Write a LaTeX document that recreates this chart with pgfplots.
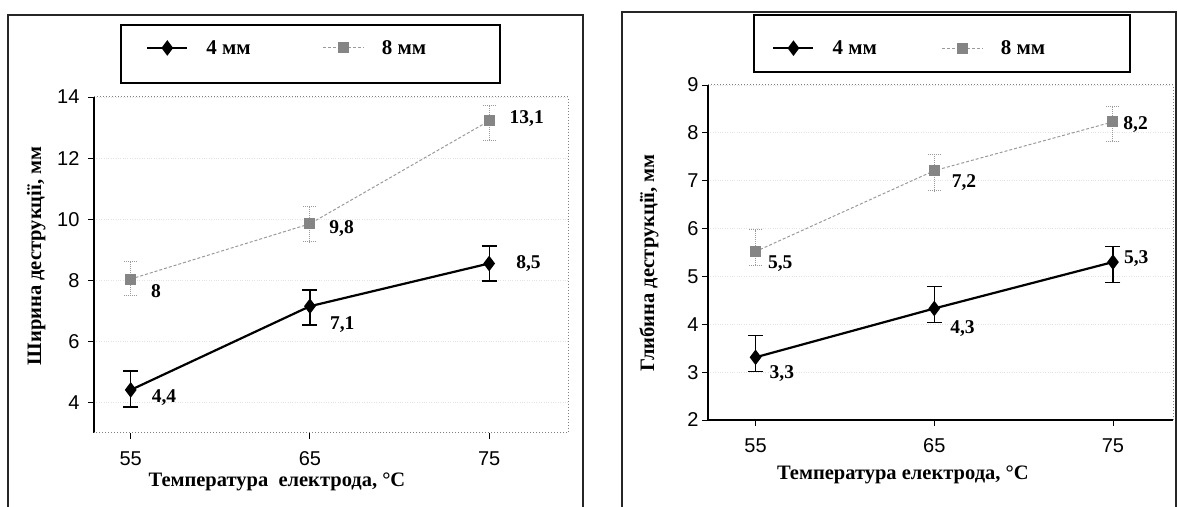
\documentclass[border=0pt]{standalone}
\usepackage{fontspec}
\setmainfont{Liberation Serif}
\setsansfont{Liberation Sans}
\usepackage{pgfplots}
\usepackage{pgfplotstable}
\pgfplotsset{compat=1.18}

\definecolor{grayline}{HTML}{9A9A9A}
\definecolor{graymark}{HTML}{858585}
\newcommand\fs{\fontsize{20bp}{23bp}\selectfont}
\newcommand\fl{\fontsize{20.5bp}{23bp}\selectfont}
\newcommand\fg{\fontsize{21bp}{24bp}\selectfont}
\newcommand\fd{\fontsize{19.5bp}{22bp}\selectfont}

% left panel: width of destruction
\pgfplotstableread{
x y ep em dx dy lab
55 4.41 0.62 0.56 20 -8 4,4
65 7.15 0.53 0.61 19 -18 7,1
75 8.55 0.57 0.57 26 0 8,5
}\Lfour
\pgfplotstableread{
x y ep em dx dy lab
55 8.04 0.56 0.54 20 -12 8
65 9.85 0.57 0.59 19 -5 9,8
75 13.22 0.51 0.64 20 2 13,1
}\Leight
% right panel: depth of destruction
\pgfplotstableread{
x y ep em dx dy lab
55 3.31 0.45 0.30 13 -16 3,3
65 4.33 0.46 0.30 15 -20 4,3
75 5.30 0.32 0.42 10 4 5,3
}\Rfour
\pgfplotstableread{
x y ep em dx dy lab
55 5.52 0.46 0.29 12 -12 5,5
65 7.21 0.34 0.42 17 -12 7,2
75 8.23 0.33 0.41 10 -3 8,2
}\Reight

\pgfplotsset{
  panel/.style={
    scale only axis, clip=false,
    xtick={55,65,75},
    tick pos=left, tick align=outside, major tick length=6bp,
    tick style={black, line width=0.9bp},
    axis line style={draw=none},
    ticklabel style={font=\sffamily\fs},
    xticklabel style={yshift=-9bp},
    /pgf/number format/assume math mode=true,
    ymajorgrids, grid style={gray!22, dotted, line width=0.8bp},
    label style={font=\bfseries\fl},
    legend columns=2,
    legend image code/.code={\draw[mark repeat=2,mark phase=2,##1] plot coordinates {(0bp,0bp) (20bp,0bp) (40bp,0bp)};},
    legend style={draw=none, fill=none, inner sep=0pt, font=\bfseries\fg,
      nodes={inner sep=0pt},
      /tikz/every odd column/.append style={column sep=18bp}},
    nodes near coords, point meta=explicit symbolic,
    visualization depends on={\thisrow{dx} \as \dx},
    visualization depends on={\thisrow{dy} \as \dy},
    every node near coord/.append style={font=\bfseries\fd, anchor=west, inner sep=0pt, xshift=\dx bp, yshift=\dy bp, text=black},
  },
  four/.style={black, line width=2.2bp, mark=diamond*, mark size=6bp, mark options={solid, fill=black},
    error bars/.cd, y dir=both, y explicit,
    error bar style={black, line width=1.3bp, solid},
    error mark options={rotate=90, mark size=7.5bp, black, line width=1.3bp}},
  eight/.style={grayline, line width=1.0bp, densely dashed, mark=square*, mark size=5bp, mark options={solid, fill=graymark, draw=graymark},
    error bars/.cd, y dir=both, y explicit,
    error bar style={grayline, line width=1bp, densely dotted},
    error mark options={rotate=90, mark size=6.5bp, grayline, line width=1bp, densely dotted}},
}

\begin{document}
\begin{tikzpicture}
\useasboundingbox (0,0) rectangle (1178bp,507bp);
% panel frames
\draw[black!85, line width=1.3bp] (8bp,0bp) -- (8bp,492bp) -- (583bp,492bp) -- (583bp,0bp);
\draw[black!85, line width=1.3bp] (622bp,0bp) -- (622bp,495bp) -- (1176bp,495bp) -- (1176bp,0bp);
% legend boxes
\draw[black, line width=1.2bp] (121bp,424bp) rectangle (500bp,482bp);
\draw[black, line width=1.2bp] (754bp,435bp) rectangle (1130bp,492bp);

\begin{axis}[panel,
  at={(94bp,74bp)}, anchor=south west, width=474bp, height=336bp,
  xmin=52.95, xmax=79.4, ymin=3, ymax=14, ytick={4,6,8,10,12,14},
  yticklabel style={xshift=-5bp},
  xlabel={Температура\ \ електрода, °C},
  ylabel={Ширина деструкції, мм},
  xlabel style={at={(axis description cs:0.386,-0.146)}, anchor=center},
  ylabel style={at={(axis description cs:-0.122,0.527)}, anchor=center},
  legend style={at={(axis description cs:0.1097,1.146)}, anchor=west,
    /tikz/every even column/.append style={column sep=72bp}},
]
\addplot[four] table[x=x, y=y, y error plus=ep, y error minus=em, meta=lab] {\Lfour};
\addlegendentry{4 мм}
\addplot[eight] table[x=x, y=y, y error plus=ep, y error minus=em, meta=lab] {\Leight};
\addlegendentry{8 мм}
\draw[black, line width=1.6bp] (rel axis cs:0,0) -- (rel axis cs:0,1);
\draw[gray, dotted, line width=1bp] (rel axis cs:0,1) -- (rel axis cs:1,1) -- (rel axis cs:1,0) -- (rel axis cs:0,0);
\end{axis}

\begin{axis}[panel,
  at={(708bp,87bp)}, anchor=south west, width=465bp, height=335bp,
  xmin=52.34, xmax=78.36, ymin=2, ymax=9, ytick={2,3,4,5,6,7,8,9},
  xlabel={Температура\ електрода, °C},
  ylabel={Глибина деструкції, мм},
  xlabel style={at={(axis description cs:0.419,-0.164)}, anchor=center},
  ylabel style={at={(axis description cs:-0.127,0.469)}, anchor=center},
  legend style={at={(axis description cs:0.138,1.110)}, anchor=west,
    /tikz/every even column/.append style={column sep=65bp}},
]
\addplot[four] table[x=x, y=y, y error plus=ep, y error minus=em, meta=lab] {\Rfour};
\addlegendentry{4 мм}
\addplot[eight] table[x=x, y=y, y error plus=ep, y error minus=em, meta=lab] {\Reight};
\addlegendentry{8 мм}
\draw[black, line width=1.6bp] (rel axis cs:0,1) -- (rel axis cs:0,0) -- (rel axis cs:1,0);
\draw[gray, dotted, line width=1bp] (rel axis cs:0,1) -- (rel axis cs:1,1) -- (rel axis cs:1,0);
\end{axis}
\end{tikzpicture}
\end{document}
